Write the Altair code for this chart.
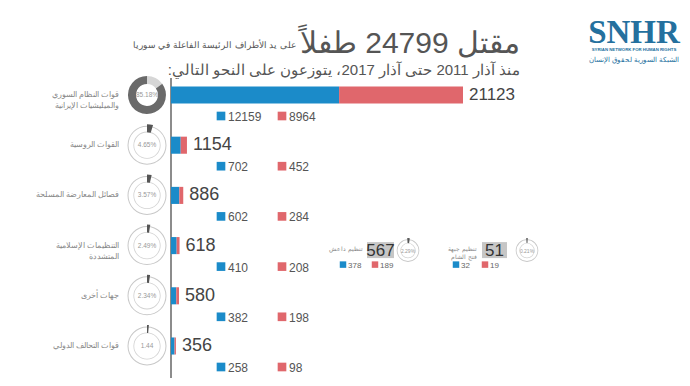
import math
import altair as alt
import pandas as pd

# ---------------- data ----------------
TITLE_BIG = "مقتل 24799 طفلاً"
TITLE_SMALL = "على يد الأطراف الرئيسة الفاعلة في سوريا"
SUBTITLE = "منذ آذار 2011 حتى آذار 2017، يتوزعون على النحو التالي:\u200f"
LOGO = "SNHR"
LOGO_EN = "SYRIAN NETWORK FOR HUMAN RIGHTS"
LOGO_AR = "الشبكة السورية لحقوق الإنسان"

categories = [
    "قوات النظام السوري\nوالميليشيات الإيرانية",
    "القوات الروسية",
    "فصائل المعارضة المسلحة",
    "التنظيمات الإسلامية\nالمتشددة",
    "جهات أخرى",
    "قوات التحالف الدولي",
]
totals = [21123, 1154, 886, 618, 580, 356]
blue_vals = [12159, 702, 602, 410, 382, 258]
red_vals = [8964, 452, 284, 208, 198, 98]
pct_vals = [85.18, 4.65, 3.57, 2.49, 2.34, 1.44]
pct_labels = ["85.18%", "4.65%", "3.57%", "2.49%", "2.34%", "1.44"]

sub_names = ["تنظيم داعش", "تنظيم جبهة\nفتح الشام"]
sub_parent = [3, 3]
sub_totals = [567, 51]
sub_blue = [378, 32]
sub_red = [189, 19]
sub_pct = [2.29, 0.21]
sub_pct_labels = ["2.29%", "0.21%"]

# ---------------- layout / style ----------------
W, H = 674, 370
ZERO_PX, REF_PX = 163, 455          # plot px of 0 and of the largest total
ROW0_PX, ROW_STEP = 87, 50.2
BLUE, RED = "#1b8bc9", "#e0676c"
GREY_TXT = "#555555"

k = (REF_PX - ZERO_PX) / max(totals)
xscale = alt.Scale(domain=[-ZERO_PX / k, (W - ZERO_PX) / k], nice=False, zero=False)
yscale = alt.Scale(domain=[-ROW0_PX / ROW_STEP, (H - ROW0_PX) / ROW_STEP],
                   nice=False, zero=False, reverse=True)
X = lambda f: alt.X(f, scale=xscale, axis=None)
Y = lambda f: alt.Y(f, scale=yscale, axis=None, stack=None)
P = lambda f: alt.X(f, scale=None, axis=None)
TH = lambda f: alt.Theta(f, scale=None, stack=None)

rows = list(range(len(categories)))
main = pd.DataFrame({
    "row": rows, "cat": categories, "total": totals, "blue": blue_vals,
    "red": red_vals, "pct": pct_vals, "pctlab": pct_labels,
})

seg = pd.DataFrame(
    [dict(row=i, start=0, end=b, series="blue") for i, b in enumerate(blue_vals)]
    + [dict(row=i, start=b, end=b + r, series="red")
       for i, (b, r) in enumerate(zip(blue_vals, red_vals))]
)

bars = alt.Chart(seg).mark_rect().transform_calculate(
    y0="datum.row - 0.17", y1="datum.row + 0.17"
).encode(
    x=X("start:Q"), x2="end:Q", y=Y("y0:Q"), y2="y1:Q",
    color=alt.Color("series:N", scale=alt.Scale(domain=["blue", "red"], range=[BLUE, RED]), legend=None),
)

axis_line = alt.Chart(pd.DataFrame({"v": [0]})).mark_rule(color="#666", strokeWidth=1.5).encode(
    x=X("v:Q"), y=alt.value(70), y2=alt.value(H)
)

value_txt = alt.Chart(main).mark_text(align="left", baseline="middle", dx=6, color="#444",
                                      font="Liberation Sans").encode(
    x=X("total:Q"), y=Y("row:Q"), text="total:Q",
    size=alt.condition("datum.row == 0", alt.value(17), alt.value(18)),
)

LEG_DY = 21
leg_blue_sq = alt.Chart(main).mark_square(size=75, color=BLUE, opacity=1, yOffset=LEG_DY).encode(
    x=alt.value(213), y=Y("row:Q"))
leg_red_sq = alt.Chart(main).mark_square(size=75, color=RED, opacity=1, yOffset=LEG_DY).encode(
    x=alt.value(274), y=Y("row:Q"))
leg_blue_txt = alt.Chart(main).mark_text(align="left", baseline="middle", fontSize=12, color=GREY_TXT,
                                         yOffset=LEG_DY + 1, font="Liberation Sans").encode(
    x=alt.value(220), y=Y("row:Q"), text="blue:Q")
leg_red_txt = alt.Chart(main).mark_text(align="left", baseline="middle", fontSize=12, color=GREY_TXT,
                                        yOffset=LEG_DY + 1, font="Liberation Sans").encode(
    x=alt.value(281), y=Y("row:Q"), text="red:Q")

cat_txt = alt.Chart(main).mark_text(align="right", baseline="middle", fontSize=8, color="#888",
                                    lineBreak="\n", lineHeight=11).encode(
    x=alt.value(111), y=Y("row:Q"), text="cat:N")

# donuts
DX = 139
TWO_PI = 2 * math.pi
first = main[main.row == 0]
rest = main[main.row > 0]

d0_light = alt.Chart(first).mark_arc(innerRadius=11, outerRadius=19, color="#d6d6d6").transform_calculate(
    t0="0", t1=f"(1 - datum.pct / 100) * {TWO_PI}"
).encode(x=alt.value(DX), y=Y("row:Q"), theta=TH("t0:Q"), theta2="t1:Q")
d0_dark = alt.Chart(first).mark_arc(innerRadius=11, outerRadius=19, color="#6a6a6a").transform_calculate(
    t0=f"(1 - datum.pct / 100) * {TWO_PI}", t1=f"{TWO_PI}"
).encode(x=alt.value(DX), y=Y("row:Q"), theta=TH("t0:Q"), theta2="t1:Q")

ring_calc = dict(t0="0", t1=f"{TWO_PI}")
outer_ring = alt.Chart(rest).mark_arc(innerRadius=18.5, outerRadius=19.5, color="#c8c8c8").transform_calculate(
    **ring_calc).encode(x=alt.value(DX), y=Y("row:Q"), theta=TH("t0:Q"), theta2="t1:Q")
inner_ring = alt.Chart(rest).mark_arc(innerRadius=12.8, outerRadius=13.6, color="#d2d2d2").transform_calculate(
    **ring_calc).encode(x=alt.value(DX), y=Y("row:Q"), theta=TH("t0:Q"), theta2="t1:Q")
tick = alt.Chart(rest).mark_arc(innerRadius=13, outerRadius=21, color="#555").transform_calculate(
    t0="0", t1=f"datum.pct / 100 * {TWO_PI}"
).encode(x=alt.value(DX), y=Y("row:Q"), theta=TH("t0:Q"), theta2="t1:Q")
pct_txt = alt.Chart(main).mark_text(align="center", baseline="middle", fontSize=6.5, color="#999").encode(
    x=alt.value(DX), y=Y("row:Q"), text="pctlab:N")

# sub groups (break-down of row 3)
sub_layout = [  # plot-pixel x positions for each sub-group block
    dict(lab=355, bx0=359, bx1=386, dc=400, bsq=335, btx=340, rsq=367, rtx=372),
    dict(lab=469, bx0=474, bx1=499, dc=519, bsq=448, btx=453, rsq=477, rtx=482),
]
sub = pd.DataFrame({
    "row": sub_parent, "name": sub_names, "total": sub_totals, "blue": sub_blue,
    "red": sub_red, "pct": sub_pct, "pctlab": sub_pct_labels,
})
for key in sub_layout[0]:
    sub[key] = [d[key] for d in sub_layout]

sub_box = alt.Chart(sub).mark_rect(color="#c6c6c6", yOffset=-3.5, y2Offset=12.5).encode(
    x=P("bx0:Q"), x2="bx1:Q", y=Y("row:Q"), y2="row:Q")
sub_val = alt.Chart(sub).mark_text(align="center", baseline="middle", fontSize=17, color="#333",
                                   yOffset=5, font="Liberation Sans").encode(
    x=P("mid:Q"), y=Y("row:Q"), text="total:Q"
).transform_calculate(mid="(datum.bx0 + datum.bx1) / 2")
sub_lab = alt.Chart(sub).mark_text(align="right", baseline="middle", fontSize=6, color="#888",
                                   lineBreak="\n", lineHeight=8, yOffset=3).encode(
    x=P("lab:Q"), y=Y("row:Q"), text="name:N")
SUB_DY = 19
sub_bsq = alt.Chart(sub).mark_square(size=42, color=BLUE, opacity=1, yOffset=SUB_DY).encode(
    x=P("bsq:Q"), y=Y("row:Q"))
sub_rsq = alt.Chart(sub).mark_square(size=42, color=RED, opacity=1, yOffset=SUB_DY).encode(
    x=P("rsq:Q"), y=Y("row:Q"))
sub_btx = alt.Chart(sub).mark_text(align="left", baseline="middle", fontSize=8, color="#666",
                                   yOffset=SUB_DY + 1, font="Liberation Sans").encode(
    x=P("btx:Q"), y=Y("row:Q"), text="blue:Q")
sub_rtx = alt.Chart(sub).mark_text(align="left", baseline="middle", fontSize=8, color="#666",
                                   yOffset=SUB_DY + 1, font="Liberation Sans").encode(
    x=P("rtx:Q"), y=Y("row:Q"), text="red:Q")
SUB_DONUT_DY = 5
sub_ring_o = alt.Chart(sub).mark_arc(innerRadius=10.5, outerRadius=11.3, color="#c8c8c8",
                                     yOffset=SUB_DONUT_DY).transform_calculate(**ring_calc).encode(
    x=P("dc:Q"), y=Y("row:Q"), theta=TH("t0:Q"), theta2="t1:Q")
sub_ring_i = alt.Chart(sub).mark_arc(innerRadius=7, outerRadius=7.7, color="#d2d2d2",
                                     yOffset=SUB_DONUT_DY).transform_calculate(**ring_calc).encode(
    x=P("dc:Q"), y=Y("row:Q"), theta=TH("t0:Q"), theta2="t1:Q")
sub_tick = alt.Chart(sub).mark_arc(innerRadius=7.5, outerRadius=12.5, color="#555",
                                   yOffset=SUB_DONUT_DY).transform_calculate(
    t0="-0.06", t1=f"max(datum.pct / 100 * {TWO_PI}, 0.06)"
).encode(x=P("dc:Q"), y=Y("row:Q"), theta=TH("t0:Q"), theta2="t1:Q")
sub_pct_txt = alt.Chart(sub).mark_text(align="center", baseline="middle", fontSize=5, color="#999",
                                       yOffset=SUB_DONUT_DY).encode(
    x=P("dc:Q"), y=Y("row:Q"), text="pctlab:N")


def label(text, x, y, **kw):
    return alt.Chart(pd.DataFrame({"t": [text]})).mark_text(**kw).encode(
        text="t:N", x=alt.value(x), y=alt.value(y))


title_big = label(TITLE_BIG, 512, 45, align="right", baseline="alphabetic", fontSize=30,
                  fontWeight=300, color=GREY_TXT)
title_small = label(TITLE_SMALL, 288, 40, align="right", baseline="alphabetic", fontSize=9,
                    color=GREY_TXT)
subtitle = label(SUBTITLE, 512, 67, align="right", baseline="alphabetic", fontSize=15,
                 color=GREY_TXT)
logo = label(LOGO, 626, 35, align="center", baseline="alphabetic", fontSize=33, fontWeight="bold",
             font="Liberation Serif", color="#24709e")
logo_en = label(LOGO_EN, 626, 43, align="center", baseline="alphabetic", fontSize=4.3,
                fontWeight="bold", color="#24709e")
logo_ar = label(LOGO_AR, 626, 54, align="center", baseline="alphabetic", fontSize=6.5,
                color="#24709e")

chart = alt.layer(
    axis_line, bars, value_txt, leg_blue_sq, leg_red_sq, leg_blue_txt, leg_red_txt, cat_txt,
    d0_light, d0_dark, outer_ring, inner_ring, tick, pct_txt,
    sub_box, sub_val, sub_lab, sub_bsq, sub_rsq, sub_btx, sub_rtx,
    sub_ring_o, sub_ring_i, sub_tick, sub_pct_txt,
    title_big, title_small, subtitle, logo, logo_en, logo_ar,
).properties(
    width=W, height=H, padding=0, autosize="none", background="white"
).configure_view(stroke=None)

chart.save("out.html", embed_options={"renderer": "svg", "actions": False})
